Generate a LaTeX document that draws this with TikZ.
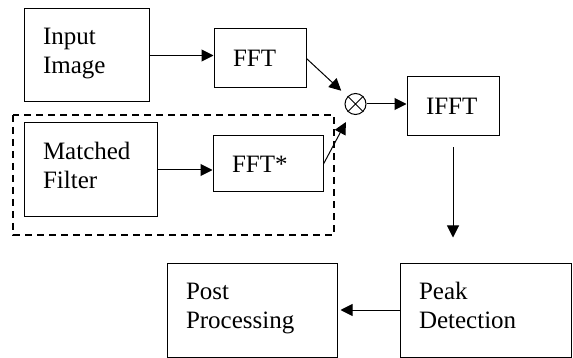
\documentclass[tikz,border=0pt]{standalone}
\usepackage{fontspec}
\setmainfont{Liberation Serif}
\usetikzlibrary{arrows.meta,positioning}

\begin{document}
\begin{tikzpicture}[x=1pt,y=-1pt,>={Triangle[length=12pt,width=12pt]},line width=1pt,
   blk/.style={draw,align=left,inner xsep=19pt,inner ysep=0pt,font=\fontsize{25}{29}\selectfont}]
   \useasboundingbox (0,0) rectangle (573,358);
   \node[blk,minimum width=125pt,minimum height=93pt,text width=87pt] (inp) at (86.5,55.5) {Input\\Image\strut};
   \node[blk,minimum width=92pt,minimum height=59pt,text width=54pt] (fft) at (260,58.5) {FFT};
   \node[draw,circle,minimum size=21pt,inner sep=0pt] (mult) at (355.5,104) {};
   \draw (mult.north west) -- (mult.south east) (mult.north east) -- (mult.south west);
   \node[blk,minimum width=92pt,minimum height=59pt,text width=54pt] (ifft) at (453,106.5) {IFFT};
   \node[blk,minimum width=133pt,minimum height=94pt,text width=95pt] (mf) at (90.5,170) {Matched\\Filter\strut};
   \node[blk,minimum width=110pt,minimum height=56pt,text width=72pt] (fftc) at (268,164) {FFT*};
   \node[blk,minimum width=171pt,minimum height=94pt,text width=133pt] (peak) at (485.5,310) {Peak\\Detection\strut};
   \node[blk,minimum width=170pt,minimum height=94pt,text width=132pt] (post) at (252,310) {Post\\Processing\strut};
   \draw[line width=1.5pt,dash pattern=on 7pt off 5pt] (13,115) rectangle (334,235);
   \draw[->] (inp.east) -- (inp.east -| fft.west);
   \draw[->] (mf.east) -- (mf.east -| fftc.west);
   \draw[->,shorten >=8.5pt] (fft.east) -- (mult);
   \draw[->,shorten >=9.5pt] (fftc.east) -- (mult);
   \draw[->] (mult.east) -- (mult.east -| ifft.west);
   \draw[->,shorten <=11pt,shorten >=25pt] (ifft.south) -- (ifft.south |- peak.north);
   \draw[->,shorten >=3pt] (peak.west) -- (post.east);
\end{tikzpicture}
\end{document}
